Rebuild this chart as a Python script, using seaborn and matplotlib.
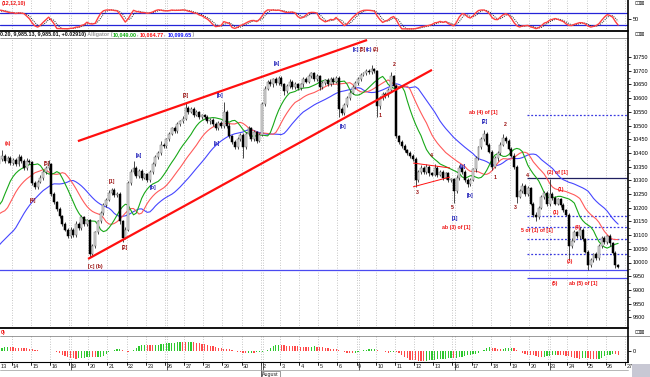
"""
Hourly DJIA chart, 13 Jul - 26 Aug 2010, with Alligator lines,
Elliott wave labels, a stochastic panel on top and the Awesome
Oscillator underneath.
"""
import numpy as np
import pandas as pd
import matplotlib
matplotlib.use("Agg")
import matplotlib.pyplot as plt
from matplotlib.lines import Line2D
from matplotlib.patches import Rectangle
import seaborn as sns

sns.set_theme(style="white")
plt.rcParams["font.family"] = ["Liberation Sans", "DejaVu Sans"]

W, H = 650, 377

# ----------------------------------------------------------------------------
# DATA (7 hourly bars per session)
# ----------------------------------------------------------------------------
day_labels = ["13", "14", "15", "16", "19", "20", "21", "22", "23", "26", "27",
              "28", "29", "30", "2", "3", "4", "5", "6", "9", "10", "11", "12",
              "13", "16", "17", "18", "19", "20", "23", "24", "25", "26", "27"]
week_start_days = [4, 9, 14, 19, 24, 29]
august_day = 14

# session before the first visible one (only feeds the indicators)
warmup_close = [10200, 10215, 10195, 10210, 10225, 10230, 10216]
jaw_seed, teeth_seed, lips_seed = 10040, 10150, 10190

close = [
    10340, 10360, 10378, 10390, 10370, 10382, 10363,   # Jul 13
    10375, 10360, 10385, 10370, 10345, 10372, 10366,   # Jul 14
    10290, 10275, 10295, 10310, 10330, 10345, 10359,   # Jul 15
    10250, 10220, 10195, 10170, 10140, 10120, 10097,   # Jul 16
    10120, 10100, 10140, 10125, 10165, 10140, 10154,   # Jul 19
    10030, 10060, 10110, 10150, 10180, 10210, 10229,   # Jul 20
    10255, 10265, 10245, 10250, 10150, 10090, 10120,   # Jul 21
    10290, 10330, 10345, 10315, 10335, 10310, 10322,   # Jul 22
    10300, 10330, 10360, 10385, 10400, 10430, 10424,   # Jul 23
    10450, 10470, 10490, 10480, 10505, 10515, 10525,   # Jul 26
    10565, 10550, 10560, 10540, 10548, 10530, 10537,   # Jul 27
    10530, 10515, 10520, 10505, 10490, 10510, 10497,   # Jul 28
    10550, 10500, 10460, 10440, 10420, 10450, 10467,   # Jul 29
    10420, 10470, 10490, 10450, 10475, 10445, 10466,   # Jul 30
    10580, 10635, 10660, 10650, 10668, 10655, 10674,   # Aug 2
    10650, 10625, 10645, 10660, 10640, 10650, 10636,   # Aug 3
    10650, 10670, 10660, 10680, 10690, 10670, 10680,   # Aug 4
    10640, 10655, 10665, 10650, 10670, 10660, 10675,   # Aug 5
    10560, 10545, 10575, 10600, 10620, 10640, 10654,   # Aug 6
    10670, 10685, 10690, 10700, 10695, 10705, 10698,   # Aug 9
    10570, 10600, 10615, 10610, 10630, 10680, 10644,   # Aug 10
    10460, 10440, 10425, 10410, 10400, 10390, 10378,   # Aug 11
    10300, 10330, 10345, 10330, 10350, 10325, 10320,   # Aug 12
    10345, 10320, 10330, 10310, 10325, 10300, 10303,   # Aug 13
    10260, 10310, 10345, 10330, 10300, 10285, 10302,   # Aug 16
    10340, 10380, 10420, 10450, 10470, 10430, 10405,   # Aug 17
    10350, 10380, 10400, 10430, 10455, 10445, 10415,   # Aug 18
    10390, 10350, 10240, 10260, 10280, 10250, 10271,   # Aug 19
    10215, 10175, 10165, 10200, 10240, 10255, 10213,   # Aug 20
    10250, 10235, 10215, 10230, 10210, 10190, 10174,   # Aug 23
    10060, 10080, 10110, 10095, 10120, 10085, 10040,   # Aug 24
    9990, 10010, 10030, 10015, 10060, 10090, 10075,    # Aug 25
    10095, 10070, 10035, 9990, 9985,                   # Aug 26
]

# shadow lengths above / below the body, in index points
wick_up = [
    6, 8, 6, 20, 6, 6, 5,
    8, 6, 10, 6, 6, 8, 6,
    6, 6, 6, 8, 6, 6, 15,
    5, 6, 5, 6, 5, 6, 5,
    8, 6, 10, 6, 8, 6, 6,
    6, 8, 6, 6, 8, 6, 6,
    10, 8, 6, 8, 6, 6, 8,
    6, 10, 25, 8, 6, 8, 6,
    6, 8, 6, 8, 6, 12, 6,
    6, 8, 6, 8, 6, 6, 8,
    18, 6, 8, 6, 8, 6, 6,
    6, 8, 6, 8, 6, 6, 6,
    35, 6, 8, 6, 6, 8, 6,
    6, 8, 10, 6, 8, 6, 8,
    6, 8, 6, 8, 6, 8, 6,
    6, 6, 8, 10, 6, 8, 6,
    6, 8, 6, 8, 6, 6, 8,
    6, 8, 6, 8, 6, 6, 6,
    6, 6, 8, 6, 8, 6, 8,
    6, 8, 6, 8, 6, 15, 6,
    6, 8, 6, 8, 6, 15, 6,
    6, 6, 8, 6, 6, 6, 5,
    6, 8, 10, 6, 8, 6, 6,
    15, 6, 8, 6, 6, 6, 6,
    6, 8, 10, 6, 6, 8, 6,
    6, 8, 6, 8, 13, 6, 6,
    6, 8, 6, 8, 15, 6, 6,
    6, 8, 6, 8, 10, 6, 8,
    6, 6, 8, 6, 8, 6, 6,
    55, 6, 8, 6, 6, 6, 6,
    6, 8, 10, 6, 8, 6, 6,
    6, 8, 6, 8, 6, 8, 6,
    6, 8, 6, 6, 6,
]
wick_dn = [
    6, 6, 8, 6, 6, 8, 6,
    6, 8, 6, 6, 8, 6, 6,
    6, 8, 6, 6, 8, 6, 6,
    6, 8, 6, 6, 8, 6, 6,
    8, 6, 6, 8, 6, 6, 6,
    10, 6, 8, 6, 6, 8, 6,
    6, 8, 6, 6, 8, 15, 6,
    6, 8, 6, 8, 6, 8, 6,
    8, 6, 8, 6, 6, 8, 6,
    6, 8, 6, 6, 8, 6, 6,
    6, 8, 6, 8, 6, 8, 6,
    6, 6, 8, 6, 8, 6, 6,
    6, 8, 6, 8, 6, 6, 6,
    38, 6, 8, 6, 6, 8, 6,
    6, 8, 6, 6, 8, 6, 6,
    6, 15, 6, 8, 6, 6, 8,
    6, 8, 6, 6, 8, 6, 6,
    12, 6, 8, 6, 6, 8, 6,
    30, 8, 6, 6, 8, 6, 6,
    6, 8, 6, 6, 8, 6, 6,
    40, 8, 6, 8, 6, 6, 8,
    5, 6, 8, 6, 6, 8, 6,
    25, 6, 8, 6, 6, 8, 6,
    6, 8, 6, 8, 6, 6, 6,
    43, 6, 8, 6, 6, 8, 6,
    6, 8, 6, 6, 8, 6, 6,
    13, 6, 8, 6, 6, 8, 6,
    6, 8, 22, 6, 6, 8, 6,
    6, 8, 15, 6, 6, 8, 6,
    6, 8, 6, 6, 8, 6, 6,
    50, 8, 6, 6, 8, 6, 6,
    17, 6, 8, 6, 6, 8, 6,
    6, 8, 6, 10, 6,
]

price_levels = list(range(9800, 10751, 50))

# channel and triangle lines: (bar index, price) end points
upper_channel = [(30.7, 10443), (136.3, 10812)]
lower_channel = [(34.4, 10013), (160.0, 10703)]
triangle_top = [(153.1, 10363), (166.6, 10345)]
triangle_bottom = [(153.1, 10276), (166.6, 10312)]

# horizontal levels on the right: price, style, colour, starting bar
level_prices = [10538, 10308, 10170, 10130, 10086, 10031, 9973, 9943]
level_styles = [":", "-", ":", ":", ":", ":", "-", "-"]
level_colors = ["#3a3ae0", "#202060", "#3a3ae0", "#3a3ae0", "#3a3ae0",
                "#3a3ae0", "#4a4af0", "#4a4af0"]
level_starts = [194.7, 194.7, 194.7, 194.7, 194.7, 194.7, 0.0, 194.7]

RED, DRED, BLUE = "#ee1111", "#9a1010", "#1414b4"
wave_text = ["(a)", "[4]", "[5]", "[c] (b)", "[1]", "[2]", "[a]", "[b]", "[3]",
             "[b]", "[a]", "[a]", "[b]", "[c]", "[5]", "(c)", "(2)", "1", "2",
             "3", "4", "5", "[1]", "ab (3) of [1]", "[a]", "[b]", "[2]",
             "ab (4) of [1]", "1", "2", "3", "4", "(2) of [1]", "(1)", "(1)",
             "5 of (1) of [1]", "(4)", "(3)", "(5)", "ab (5) of [1]"]
wave_x = [5.2, 14.3, 19.4, 37.0, 43.1, 47.9, 53.0, 58.1, 70.2, 82.6, 81.5,
          103.4, 127.5, 132.2, 134.6, 137.0, 139.4, 140.9, 146.4, 154.8, 159.9,
          167.6, 168.4, 168.7, 171.2, 174.1, 179.3, 178.6, 182.9, 186.9, 190.6,
          195.0, 205.8, 207.0, 205.2, 198.4, 213.3, 210.3, 205.0, 215.2]
wave_y = [10436, 10228, 10363, 9987, 10294, 10053, 10392, 10272, 10611, 10611,
          10436, 10728, 10498, 10776, 10776, 10776, 10776, 10538, 10721, 10254,
          10392, 10199, 10162, 10126, 10352, 10246, 10513, 10549, 10312, 10502,
          10199, 10319, 10330, 10265, 10181, 10115, 10126, 10002, 9925, 9925]
wave_color = [RED, DRED, DRED, DRED, DRED, DRED, BLUE, BLUE, DRED, BLUE, BLUE,
              BLUE, BLUE, BLUE, DRED, BLUE, DRED, DRED, DRED, DRED, DRED, DRED,
              BLUE, RED, BLUE, BLUE, BLUE, RED, DRED, DRED, DRED, DRED, RED,
              RED, RED, RED, RED, RED, RED, RED]

# ----------------------------------------------------------------------------
# DERIVED SERIES (indicators computed from the bars)
# ----------------------------------------------------------------------------
n_warm = len(warmup_close)
all_close = np.array(warmup_close + close, dtype=float)
all_open = np.r_[warmup_close[0], all_close[:-1]]
all_hi = np.maximum(all_open, all_close) + np.r_[np.zeros(n_warm), wick_up]
all_lo = np.minimum(all_open, all_close) - np.r_[np.zeros(n_warm), wick_dn]
all_idx = np.arange(-n_warm, len(close))
median = (all_hi + all_lo) / 2
last = len(close) - 1


def smma(values, n, seed):
    out, s = [], seed
    for v in values:
        s = (s * (n - 1) + v) / n
        out.append(s)
    return np.array(out)


def shifted(series, shift):
    x = all_idx + shift
    keep = (x <= last) & (x >= 0)
    return x[keep], series[keep]


jaw_x, jaw_y = shifted(smma(median, 13, jaw_seed), 8)
teeth_x, teeth_y = shifted(smma(median, 8, teeth_seed), 5)
lips_x, lips_y = shifted(smma(median, 5, lips_seed), 3)

med_s = pd.Series(median)
ao = (med_s.rolling(5, min_periods=1).mean()
      - med_s.rolling(34, min_periods=1).mean()).to_numpy()
ao_up = np.r_[True, ao[1:] > ao[:-1]]

hh = pd.Series(all_hi).rolling(12, min_periods=1).max()
ll = pd.Series(all_lo).rolling(12, min_periods=1).min()
raw_k = 100 * (pd.Series(all_close) - ll) / (hh - ll)
stoch_k = raw_k.rolling(3, min_periods=1).mean().to_numpy()
stoch_d = pd.Series(stoch_k).rolling(3, min_periods=1).mean().to_numpy()

vis = all_idx >= 0
o = all_open[vis]
c = all_close[vis]
hi = all_hi[vis]
lo = all_lo[vis]
x = all_idx[vis]

# ----------------------------------------------------------------------------
# FIGURE LAYOUT (pixel boxes)
# ----------------------------------------------------------------------------
fig = plt.figure(figsize=(W / 100, H / 100), dpi=100)
fig.patch.set_facecolor("white")


def px_axes(x0, y0, x1, y1):
    return fig.add_axes([x0 / W, 1 - y1 / H, (x1 - x0) / W, (y1 - y0) / H])


def fig_line(x0, y0, x1, y1, **kw):
    fig.add_artist(Line2D([x0 / W, x1 / W], [1 - y0 / H, 1 - y1 / H], **kw))


ax_osc = px_axes(0, 0, 628, 30.5)
ax_main = px_axes(0, 38.5, 628, 327.5)
ax_ao = px_axes(0, 336, 628, 362)

xlim = ((0 + 7.5) / 2.738 - 0.5, (628 + 7.5) / 2.738 - 0.5)
day_bounds = [7 * d - 0.5 for d in range(len(day_labels))]
week_bounds = [day_bounds[d] for d in week_start_days]

for ax in (ax_osc, ax_main, ax_ao):
    ax.set_facecolor("white")
    ax.set_xlim(*xlim)
    for side in ("top", "bottom", "left", "right"):
        ax.spines[side].set_visible(False)
    ax.set_xticks([])
    for b in day_bounds[1:]:
        ax.axvline(b, color="#b4b4b4", lw=0.6, ls=(0, (1, 2)), zorder=0)
    for b in week_bounds:
        ax.axvline(b + 0.75, color="#b4b4b4", lw=0.6, ls=(0, (1, 2)), zorder=0)
    ax.yaxis.tick_right()
    ax.tick_params(axis="y", labelsize=4, length=2, width=0.6, pad=1.5,
                   direction="out", colors="black")

# ---- oscillator panel ------------------------------------------------------
ax_osc.set_ylim(-6, 146.5)
ax_osc.axhline(80, color="#2424d8", lw=0.9)
ax_osc.axhline(20, color="#2424d8", lw=0.9)
sns.lineplot(x=all_idx[vis], y=stoch_d[vis], ax=ax_osc, color="#222222",
             lw=0.7, ls=(0, (1, 1.2)), sort=False)
sns.lineplot(x=all_idx[vis], y=stoch_k[vis], ax=ax_osc, color="#ff4040",
             lw=1.0, sort=False)
ax_osc.set_yticks([50])
ax_osc.set_yticklabels(["50"])
ax_osc.set_ylabel("")
ax_osc.text(0.002, 0.88, "(12,12,10)", transform=ax_osc.transAxes, color=RED,
            fontsize=3.8, fontweight="bold", ha="left", va="center")

# ---- price panel -----------------------------------------------------------
ax_main.set_ylim(10750 - 270.5 / 0.274, 10750 + 18.5 / 0.274)
ax_main.set_yticks(price_levels)
ax_main.set_yticklabels([str(v) for v in price_levels])
ax_main.set_yticks([v + 25 for v in price_levels[:-1]], minor=True)
ax_main.tick_params(axis="y", which="minor", length=1.2, width=0.5)

for p, st, col, x0 in zip(level_prices, level_styles, level_colors, level_starts):
    ax_main.hlines(p, x0, xlim[1], colors=col, lw=0.9,
                   linestyles=st if st == "-" else (0, (1.5, 1.5)), zorder=1)

sns.lineplot(x=jaw_x, y=jaw_y, ax=ax_main, color="#4646ff", lw=0.8, sort=False)
sns.lineplot(x=teeth_x, y=teeth_y, ax=ax_main, color="#ff5a5a", lw=0.8, sort=False)
sns.lineplot(x=lips_x, y=lips_y, ax=ax_main, color="#18a818", lw=0.8, sort=False)

up = c >= o
ax_main.vlines(x, lo, hi, colors="#2a2a2a", lw=0.6, zorder=3)
body_h = np.maximum(np.abs(c - o), 1.5)
ax_main.bar(x[up], body_h[up], bottom=np.minimum(o, c)[up], width=0.72,
            color="#dcdcdc", edgecolor="#6a6a6a", lw=0.35, zorder=4)
ax_main.bar(x[~up], body_h[~up], bottom=np.minimum(o, c)[~up], width=0.72,
            color="#000000", edgecolor="#000000", lw=0.35, zorder=4)

for line, lw in ((upper_channel, 1.6), (lower_channel, 1.6),
                 (triangle_top, 0.7), (triangle_bottom, 0.7)):
    (xa, ya), (xb, yb) = line
    ax_main.plot([xa, xb], [ya, yb], color="#ff0f0f", lw=lw, zorder=5,
                 solid_capstyle="butt")

for t, tx, ty, col in zip(wave_text, wave_x, wave_y, wave_color):
    ax_main.text(tx, ty, t, color=col, fontsize=3.8, fontweight="bold",
                 ha="center", va="center", zorder=6)
ax_main.set_ylabel("")

# ---- awesome oscillator ----------------------------------------------------
a_max = np.abs(ao[vis]).max()
ax_ao.set_ylim(-1.1 * a_max, 1.5 * a_max)
ax_ao.bar(all_idx[vis], ao[vis], width=0.45,
          color=np.where(ao_up[vis], "#2ec82e", "#ff4a4a"), lw=0)
ax_ao.set_yticks([0])
ax_ao.set_yticklabels(["0"])

# ---- date axis -------------------------------------------------------------
xt = ax_ao.get_xaxis_transform()
for d, (b, lab) in enumerate(zip(day_bounds, day_labels)):
    ax_ao.plot([b, b], [0, -0.12], color="black", lw=0.6, transform=xt,
               clip_on=False)
    # first session starts left of the frame: pin its label to the edge
    lx = max(b + 0.5, xlim[0] + 0.1)
    ax_ao.text(lx, -0.07, lab, transform=xt, fontsize=4, ha="left",
               va="top", color="#202020")
for b in week_bounds:
    ax_ao.plot([b + 0.75, b + 0.75], [0, -0.3], color="#404040", lw=0.6,
               transform=xt, clip_on=False)
aug = day_bounds[august_day]
ax_ao.plot([aug, aug], [0, -0.6], color="#404040", lw=0.6, transform=xt,
           clip_on=False)
ax_ao.text(aug + 0.6, -0.37, "August", transform=xt, fontsize=3.8, ha="left",
           va="top", color="#202020",
           bbox=dict(boxstyle="square,pad=0.15", fc="white", ec="#707070", lw=0.5))

# ---- frame lines, header texts ---------------------------------------------
fig_line(0, 31.3, 628, 31.3, color="black", lw=1.3)
fig_line(0, 38.3, 628, 38.3, color="#505050", lw=0.4)
fig_line(0, 327.8, 628, 327.8, color="black", lw=1.3)
fig_line(0, 335.8, 650, 335.8, color="#505050", lw=0.4)
fig_line(0, 362.2, 628, 362.2, color="black", lw=0.8)
fig_line(0, 370.2, 628, 370.2, color="#9a9a9a", lw=0.5)
fig_line(628, 0, 628, 362.2, color="black", lw=1.2)
fig.add_artist(Rectangle((632 / W, 0), 18 / W, 13 / H, transform=fig.transFigure,
                         color="#c8c8d4", lw=0))

renderer = fig.canvas.get_renderer()
header_parts = [("0.20, 9,985.13, 9,985.01, +0.02910)", "#111111"),
                (" Alligator (", "#9a9a9a"), ("10,049.00", "#10b010"),
                (", ", "#9a9a9a"), ("10,064.77", "#ff1010"), (", ", "#9a9a9a"),
                ("10,099.65", "#1818ff"), (" )", "#9a9a9a")]
hx = 0.5
for s, col in header_parts:
    t = fig.text(hx / W, 1 - 34.9 / H, s, color=col, fontsize=3.9,
                 fontweight="bold", ha="left", va="center")
    hx += t.get_window_extent(renderer).width

fig.text(1 / W, 1 - 332.3 / H, "0)", color=RED, fontsize=3.8, fontweight="bold",
         ha="left", va="center")
for iy in (3.5, 35.0, 332.3):
    fig.text(634 / W, 1 - iy / H, "\u22a1\u22a0", color="#303030", fontsize=4.5,
             ha="left", va="center", family=["DejaVu Sans"])

fig.savefig("out.png", dpi=100, facecolor="white")
